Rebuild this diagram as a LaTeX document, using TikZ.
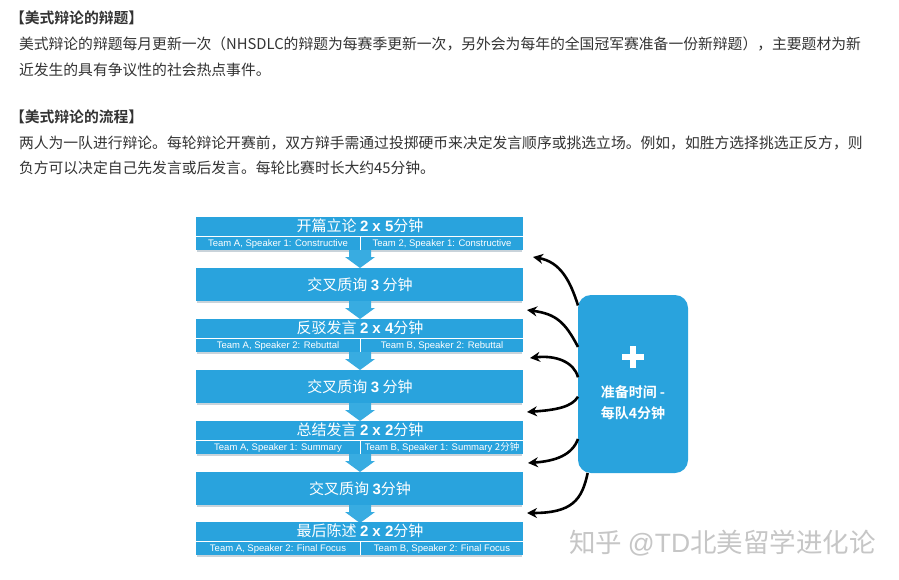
\documentclass[tikz,border=0pt]{standalone}
\usepackage{fontspec}
\setmainfont{Liberation Sans}
\newfontfamily\cjk{Noto Sans CJK SC}[BoldFont={Noto Sans CJK SC Bold}]
\usetikzlibrary{arrows.meta}
\definecolor{boxblue}{HTML}{29A3DD}
\definecolor{chevblue}{HTML}{38ACE1}
\definecolor{bodytxt}{HTML}{333333}
\definecolor{wmgray}{HTML}{C6C6C6}
\definecolor{shadowgray}{HTML}{C9D3DA}
\begin{document}
\begin{tikzpicture}[x=1pt,y=-1pt,
  every node/.style={inner sep=0pt, outer sep=0pt},
  para/.style={anchor=west, text=bodytxt, font=\cjk\fontsize{14.8}{17}\selectfont},
  head/.style={anchor=west, text=bodytxt, font=\cjk\bfseries\fontsize{14.8}{17}\selectfont},
  stage/.style={fill=boxblue, minimum width=327pt, minimum height=33pt, anchor=north west},
  ttl/.style={text=white, font=\cjk\fontsize{15}{17}\selectfont},
  subt/.style={text=white, font=\fontsize{9.5}{11}\selectfont},
  chev/.style={fill=chevblue},
  sep/.style={draw=white, line width=0.8pt},
  shade/.style={draw=shadowgray, line width=1.5pt},
  prepbox/.style={fill=boxblue, rounded corners=13pt, minimum width=110pt, minimum height=178pt, anchor=north west},
  link/.style={draw=black, line width=2.6pt, -{Stealth[length=10pt,width=10pt]}},
]
\useasboundingbox[fill=white] (0,0) rectangle (899,580);

% ---------- text paragraphs ----------
\node[head] (h1) at (10,18) {【美式辩论的辩题】};
\node[para] (p1) at (19,44) {美式辩论的辩题每月更新一次（NHSDLC的辩题为每赛季更新一次，另外会为每年的全国冠军赛准备一份新辩题），主要题材为新};
\node[para] (p2) at (19,70) {近发生的具有争议性的社会热点事件。};
\node[head] (h2) at (10,117) {【美式辩论的流程】};
\node[para] (p3) at (19,143) {两人为一队进行辩论。每轮辩论开赛前，双方辩手需通过投掷硬币来决定发言顺序或挑选立场。例如，如胜方选择挑选正反方，则};
\node[para] (p4) at (19,168) {负方可以决定自己先发言或后发言。每轮比赛时长大约45分钟。};

% ---------- shadows ----------
\foreach \yb in {251,302,353,404,455,506,556}
  \draw[shade] (197,\yb) -- (522,\yb);

% ---------- chevrons ----------
\foreach \yb in {250,301,352,403,454,505}
  \fill[chev] (349,\yb) -- (371,\yb) -- (371,\yb+7) -- (375,\yb+7) -- (360,\yb+18) -- (345,\yb+7) -- (349,\yb+7) -- cycle;

% ---------- stage boxes ----------
\node[stage] (b1) at (196,217) {};
\node[stage] (b2) at (196,268) {};
\node[stage] (b3) at (196,319) {};
\node[stage] (b4) at (196,370) {};
\node[stage] (b5) at (196,421) {};
\node[stage] (b6) at (196,472) {};
\node[stage] (b7) at (196,522) {};

% separators in boxes with two speakers
\foreach \yt in {217,319,421,522} {
  \draw[sep] (196,\yt+19) -- (523,\yt+19);
  \draw[sep] (360,\yt+19) -- (360,\yt+33);
}

% titles
\node[ttl] (t1) at (360,226) {开篇立论 {\rmfamily\bfseries 2 x 5}分钟};
\node[subt] (s1a) at (278,244) {Team A, Speaker 1: Constructive};
\node[subt] (s1b) at (442,244) {Team 2, Speaker 1: Constructive};

\node[ttl] (t2) at (360,284.5) {交叉质询 {\rmfamily\bfseries 3} 分钟};

\node[ttl] (t3) at (360,328) {反驳发言 {\rmfamily\bfseries 2 x 4}分钟};
\node[subt] (s3a) at (278,346) {Team A, Speaker 2: Rebuttal};
\node[subt] (s3b) at (442,346) {Team B, Speaker 2: Rebuttal};

\node[ttl] (t4) at (360,386.5) {交叉质询 {\rmfamily\bfseries 3} 分钟};

\node[ttl] (t5) at (360,430) {总结发言 {\rmfamily\bfseries 2 x 2}分钟};
\node[subt] (s5a) at (278,448) {Team A, Speaker 1: Summary};
\node[subt] (s5b) at (442,448) {Team B, Speaker 1: Summary {\cjk 2分钟}};

\node[ttl] (t6) at (360,488.5) {交叉质询 {\rmfamily\bfseries 3}分钟};

\node[ttl] (t7) at (360,531) {最后陈述 {\rmfamily\bfseries 2 x 2}分钟};
\node[subt] (s7a) at (278,549) {Team A, Speaker 2: Final Focus};
\node[subt] (s7b) at (442,549) {Team B, Speaker 2: Final Focus};

% ---------- preparation box ----------
\node[prepbox] (prep) at (578,295) {};
\draw[white, line width=6pt] (622,357) -- (644,357);
\draw[white, line width=6pt] (633,346) -- (633,368);
\node[text=white, font=\cjk\bfseries\fontsize{14}{16}\selectfont] (pl1) at (633,392) {准备时间 -};
\node[text=white, font=\cjk\bfseries\fontsize{14}{16}\selectfont] (pl2) at (633,413) {每队4分钟};

% ---------- arrow targets ----------
\coordinate (a1) at (533,257);
\coordinate (a2) at (527,310);
\coordinate (a3) at (530,358);
\coordinate (a4) at (527,412);
\coordinate (a5) at (528,463);
\coordinate (a6) at (527,513);

\draw[link] (prep.125) .. controls (570,280) and (560,262) .. (a1);
\draw[link] (prep.146) .. controls (565,322) and (556,314) .. (a2);
\draw[link] (prep.173) .. controls (574,362) and (556,355) .. (a3);
\draw[link] (prep.193) .. controls (572,407) and (556,410) .. (a4);
\draw[link] (prep.225) .. controls (572,455) and (556,461) .. (a5);
\draw[link] (prep.243) .. controls (582,500) and (572,513) .. (a6);

% ---------- watermark ----------
\node[text=wmgray, font=\cjk\fontsize{26.5}{29}\selectfont, anchor=west] (wm) at (569,543) {知乎 {\rmfamily @TD}北美留学进化论};
\end{tikzpicture}
\end{document}
